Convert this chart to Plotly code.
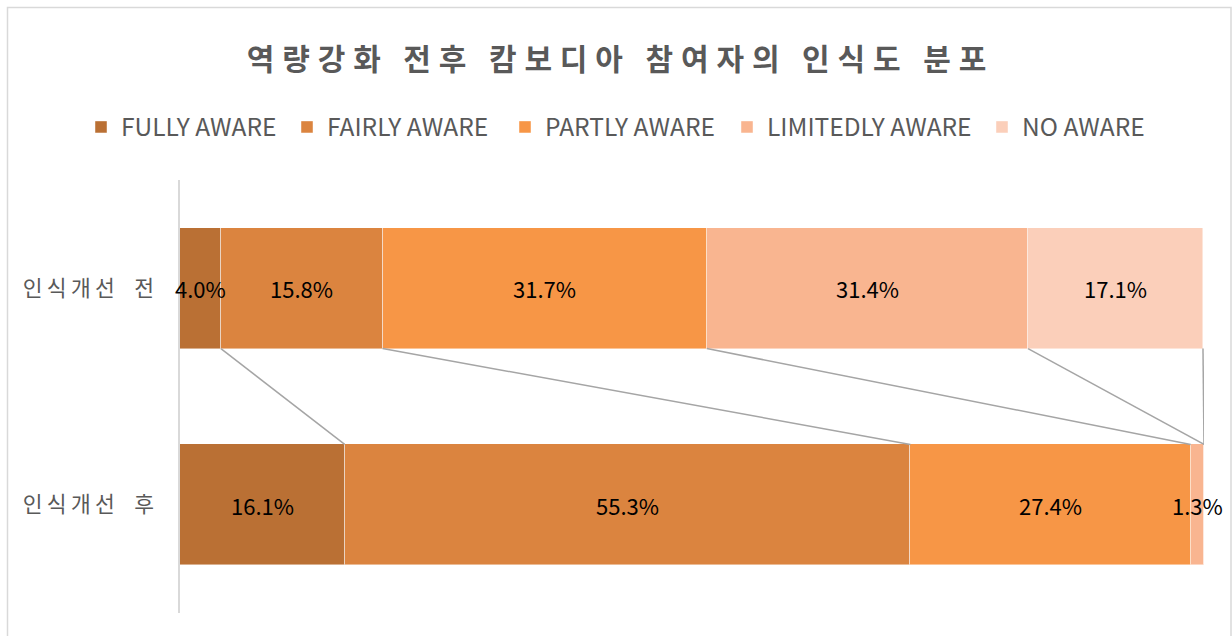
import plotly.graph_objects as go

categories = ["인식개선 전", "인식개선 후"]
series_names = ["FULLY AWARE", "FAIRLY AWARE", "PARTLY AWARE", "LIMITEDLY AWARE", "NO AWARE"]
before_values = [4.0, 15.8, 31.7, 31.4, 17.1]
after_values = [16.1, 55.3, 27.4, 1.3, 0.0]
colors = ["#BA7034", "#DB843F", "#F79646", "#F9B590", "#FBCFBA"]

W, H = 1232, 636
L, R, T, B = 180, 28, 180, 23
BAR_W = 0.557
FONT = "Noto Sans CJK KR"
LEGEND_TEXT_X = [121, 327, 545, 767, 1022]  # pixel start of each legend label

def spaced(s, sep="\u2009"):
    return sep.join(list(s))

ypos = [0, 1]
ticklabels = [spaced(c.replace(" ", "\u2002")) for c in categories]
all_values = [before_values, after_values]
legend_ids = ["legend"] + [f"legend{i + 1}" for i in range(1, len(series_names))]

fig = go.Figure()
for i, name in enumerate(series_names):
    vals = [before_values[i], after_values[i]]
    fig.add_trace(go.Bar(
        name=name, x=vals, y=ypos, orientation="h", width=BAR_W,
        marker=dict(color=colors[i], line=dict(color="rgba(255,255,255,0.45)", width=1)),
        hoverinfo="skip", legend=legend_ids[i],
    ))

# data labels via annotations at segment centres
annotations = []
for row, vals in zip(ypos, all_values):
    cum = 0.0
    for v in vals:
        if v > 0:
            annotations.append(dict(
                x=cum + v / 2, y=row, xref="x", yref="y", text=f"{v:.1f}%",
                showarrow=False, font=dict(color="#000000", size=22, family=FONT),
                xanchor="center", yanchor="middle",
            ))
        cum += v

# series lines connecting cumulative edges
cb, ca = 0.0, 0.0
for i in range(len(series_names)):
    cb += before_values[i]
    ca += after_values[i]
    fig.add_trace(go.Scatter(
        x=[cb, ca], y=[0 + BAR_W / 2, 1 - BAR_W / 2], mode="lines",
        line=dict(color="#A5A5A5", width=1.5), showlegend=False, hoverinfo="skip",
    ))

def px_x(p):
    return (p - L) / (W - L - R)

def px_y(p):
    return (H - B - p) / (H - T - B)

fig.add_shape(type="rect", xref="paper", yref="paper",
              x0=px_x(7.5), x1=px_x(1231), y0=px_y(7.5), y1=px_y(660),
              line=dict(color="#D9D9D9", width=1.5), fillcolor="rgba(0,0,0,0)", layer="below")

legend_layouts = {}
for i, lid in enumerate(legend_ids):
    legend_layouts[lid] = dict(
        orientation="h", xref="container", yref="container",
        x=(LEGEND_TEXT_X[i] - 40) / W, xanchor="left", y=1 - 127 / H, yanchor="middle",
        font=dict(size=24.5, color="#595959", family=FONT),
        itemwidth=30, bgcolor="rgba(0,0,0,0)", borderwidth=0,
    )

fig.update_layout(
    width=W, height=H,
    margin=dict(l=L, r=R, t=T, b=B, pad=0),
    paper_bgcolor="white", plot_bgcolor="white",
    barmode="stack", bargap=0,
    font=dict(family=FONT, color="#595959"),
    annotations=annotations,
    title=dict(
        text="<b>" + spaced("역량강화 전후 캄보디아 참여자의 인식도 분포", "\u2009\u200a") + "</b>",
        x=(248 + 985) / 2 / W, xanchor="center", y=1 - 59 / H, yanchor="middle",
        font=dict(size=30, color="#595959", family=FONT),
    ),
    xaxis=dict(range=[0, 100.1], showgrid=False, zeroline=False, showticklabels=False,
               showline=False, fixedrange=True),
    yaxis=dict(range=[1.5, -0.5], tickvals=ypos, ticktext=ticklabels, showgrid=False,
               zeroline=False, showline=True, linecolor="#D9D9D9", linewidth=1.5,
               ticks="", ticklabelstandoff=20,
               tickfont=dict(size=21.5, color="#595959", family=FONT)),
    showlegend=True,
    **legend_layouts,
)

fig.write_html("out.html")
